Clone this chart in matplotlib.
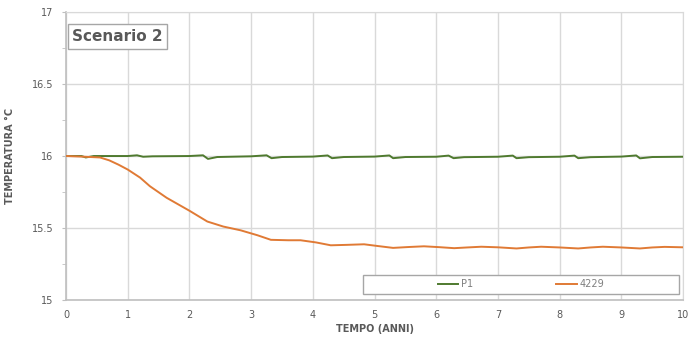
import matplotlib
matplotlib.use("Agg")
import matplotlib.pyplot as plt
from matplotlib.ticker import MultipleLocator
from matplotlib.patches import Rectangle

# data
p1_t = [0, 0.25, 0.32, 0.45, 1.0, 1.15, 1.25, 1.4, 2.0, 2.22, 2.3, 2.45,
        3.0, 3.25, 3.33, 3.5, 4.0, 4.24, 4.31, 4.5, 5.0, 5.24, 5.3, 5.5,
        6.0, 6.2, 6.28, 6.45, 7.0, 7.24, 7.3, 7.5, 8.0, 8.24, 8.3, 8.5,
        9.0, 9.24, 9.3, 9.5, 10.0]
p1_v = [16.0, 16.0, 15.99, 16.0, 16.0, 16.005, 15.995, 15.998, 16.0, 16.005, 15.98, 15.993,
        15.998, 16.005, 15.985, 15.993, 15.996, 16.004, 15.985, 15.993, 15.996, 16.004, 15.985, 15.993,
        15.995, 16.003, 15.985, 15.992, 15.995, 16.003, 15.985, 15.992, 15.995, 16.003, 15.985, 15.992,
        15.996, 16.004, 15.984, 15.993, 15.995]

s4229_t = [0, 0.3, 0.55, 0.7, 0.85, 1.0, 1.2, 1.36, 1.63, 2.0, 2.29, 2.55, 2.83, 3.1, 3.32,
           3.6, 3.8, 4.05, 4.29, 4.55, 4.83, 5.05, 5.3, 5.55, 5.8, 6.05, 6.29, 6.5, 6.73, 7.0,
           7.3, 7.5, 7.7, 8.0, 8.3, 8.5, 8.7, 9.0, 9.3, 9.5, 9.7, 10.0]
s4229_v = [16.0, 15.995, 15.99, 15.97, 15.94, 15.906, 15.85, 15.79, 15.71, 15.62, 15.545, 15.51, 15.484, 15.45, 15.418,
           15.415, 15.415, 15.40, 15.38, 15.383, 15.387, 15.375, 15.362, 15.368, 15.373, 15.367, 15.36, 15.365, 15.37, 15.366,
           15.358, 15.365, 15.37, 15.365, 15.358, 15.365, 15.37, 15.365, 15.358, 15.365, 15.369, 15.366]

fig = plt.figure(figsize=(6.9, 3.38), dpi=100)
ax = fig.add_axes([0.0957, 0.1124, 0.8943, 0.852])

grid_c = "#d9d9d9"
ax.plot(p1_t, p1_v, color="#4f7a2f", lw=1.4, label="P1", zorder=3)
ax.plot(s4229_t, s4229_v, color="#e07a35", lw=1.4, label="4229", zorder=3)

ax.set_xlim(0, 10)
ax.set_ylim(15, 17)
ax.xaxis.set_major_locator(MultipleLocator(1))
ax.yaxis.set_major_locator(MultipleLocator(0.5))
ax.yaxis.set_minor_locator(MultipleLocator(0.25))
ax.grid(True, which="major", color=grid_c, lw=1.0)
ax.set_axisbelow(True)

for s in ["top", "right"]:
    ax.spines[s].set_color(grid_c)
for s in ["left", "bottom"]:
    ax.spines[s].set_color("#bfbfbf")
    ax.spines[s].set_linewidth(1.2)

ax.tick_params(axis="both", which="major", labelsize=7, colors="#595959", length=0, pad=6)
ax.tick_params(axis="y", which="minor", length=3, color="#bfbfbf")
ax.tick_params(axis="y", which="major", length=3, color="#bfbfbf")
ax.tick_params(axis="x", which="major", pad=7)
ax.set_yticklabels([f"{v:g}" for v in ax.get_yticks()])

ax.set_xlabel("TEMPO (ANNI)", fontsize=7, fontweight="bold", color="#595959", labelpad=3)
ax.set_ylabel("TEMPERATURA °C", fontsize=7, fontweight="bold", color="#595959", labelpad=12)

ax.text(0.1, 16.83, "Scenario 2", fontsize=11, fontweight="bold", color="#595959",
        va="center", ha="left",
        bbox=dict(boxstyle="square,pad=0.3", fc="white", ec="#a6a6a6", lw=1.0))

# legend frame (box spans right half of the plot bottom)
frame = Rectangle((0.481, 0.021), 0.5125, 0.066, transform=ax.transAxes,
                  fc="white", ec="#a6a6a6", lw=1.0, zorder=4)
ax.add_patch(frame)
leg = ax.legend(loc="center", bbox_to_anchor=(0.7375, 0.054), ncol=2,
                fontsize=7, frameon=False,
                handlelength=2.1, handletextpad=0.3, columnspacing=8.5,
                labelcolor="#7f7f7f")
leg.set_zorder(5)
fig.savefig("out.png", dpi=100)
